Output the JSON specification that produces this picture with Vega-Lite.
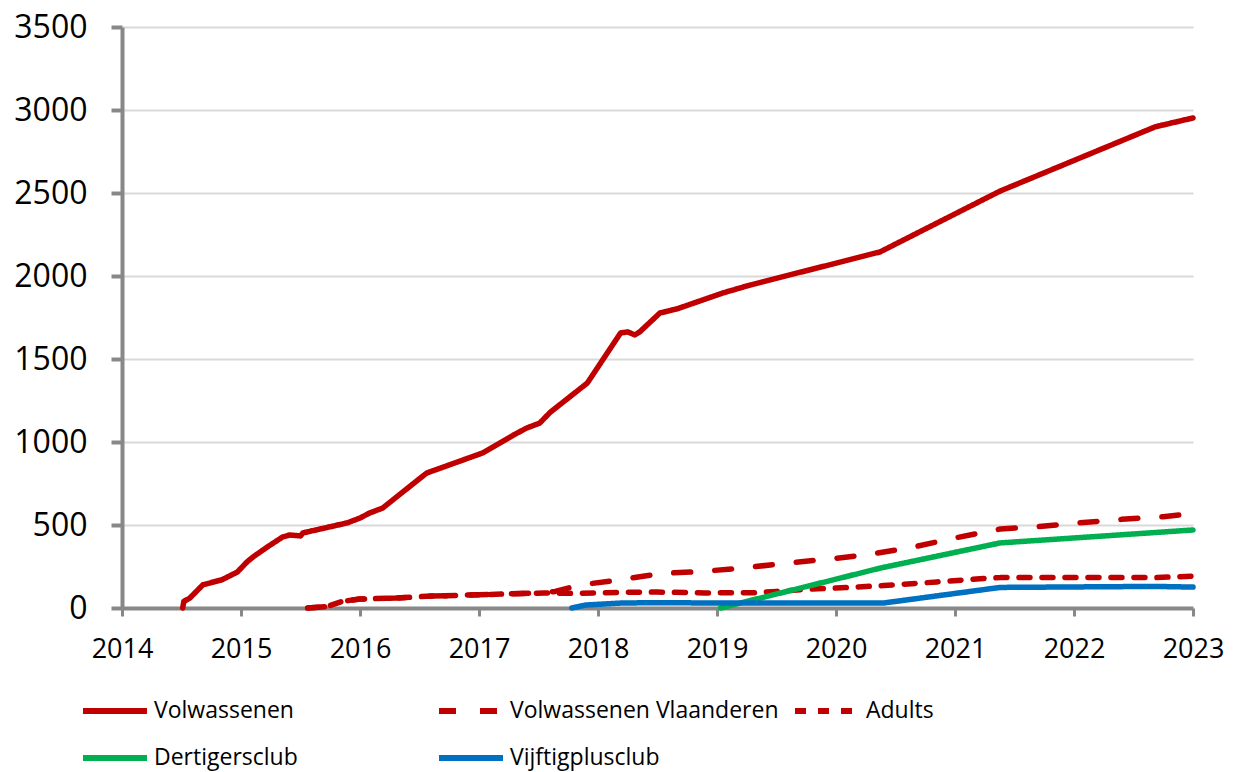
{
  "$schema": "https://vega.github.io/schema/vega-lite/v6.json",
  "autosize": {"type": "none"},
  "width": 1071,
  "height": 581,
  "padding": {"left": 122, "top": 27, "right": 43, "bottom": 164},
  "background": "white",
  "config": {
    "view": {"stroke": null},
    "font": "Open Sans",
    "axis": {"labelFont": "Open Sans", "labelColor": "#000000"},
    "legend": {"labelFont": "Open Sans"}
  },
  "data": {
    "values": [
      {"series": "Volwassenen", "year": 2014.51, "value": 0},
      {"series": "Volwassenen", "year": 2014.52, "value": 40},
      {"series": "Volwassenen", "year": 2014.57, "value": 60},
      {"series": "Volwassenen", "year": 2014.68, "value": 140},
      {"series": "Volwassenen", "year": 2014.84, "value": 170},
      {"series": "Volwassenen", "year": 2014.97, "value": 217},
      {"series": "Volwassenen", "year": 2015.05, "value": 277},
      {"series": "Volwassenen", "year": 2015.10, "value": 307},
      {"series": "Volwassenen", "year": 2015.22, "value": 367},
      {"series": "Volwassenen", "year": 2015.35, "value": 428},
      {"series": "Volwassenen", "year": 2015.41, "value": 440},
      {"series": "Volwassenen", "year": 2015.50, "value": 434},
      {"series": "Volwassenen", "year": 2015.52, "value": 452},
      {"series": "Volwassenen", "year": 2015.89, "value": 512},
      {"series": "Volwassenen", "year": 2016.00, "value": 542},
      {"series": "Volwassenen", "year": 2016.08, "value": 572},
      {"series": "Volwassenen", "year": 2016.19, "value": 602},
      {"series": "Volwassenen", "year": 2016.56, "value": 813},
      {"series": "Volwassenen", "year": 2017.03, "value": 934},
      {"series": "Volwassenen", "year": 2017.29, "value": 1042},
      {"series": "Volwassenen", "year": 2017.40, "value": 1084},
      {"series": "Volwassenen", "year": 2017.51, "value": 1114},
      {"series": "Volwassenen", "year": 2017.60, "value": 1180},
      {"series": "Volwassenen", "year": 2017.91, "value": 1355},
      {"series": "Volwassenen", "year": 2018.19, "value": 1657},
      {"series": "Volwassenen", "year": 2018.25, "value": 1663},
      {"series": "Volwassenen", "year": 2018.31, "value": 1645},
      {"series": "Volwassenen", "year": 2018.35, "value": 1663},
      {"series": "Volwassenen", "year": 2018.52, "value": 1777},
      {"series": "Volwassenen", "year": 2018.66, "value": 1801},
      {"series": "Volwassenen", "year": 2019.05, "value": 1898},
      {"series": "Volwassenen", "year": 2019.28, "value": 1946},
      {"series": "Volwassenen", "year": 2020.37, "value": 2145},
      {"series": "Volwassenen", "year": 2021.38, "value": 2512},
      {"series": "Volwassenen", "year": 2022.68, "value": 2898},
      {"series": "Volwassenen", "year": 2023.00, "value": 2952},

      {"series": "Volwassenen Vlaanderen", "year": 2015.56, "value": 0},
      {"series": "Volwassenen Vlaanderen", "year": 2015.72, "value": 8},
      {"series": "Volwassenen Vlaanderen", "year": 2015.85, "value": 40},
      {"series": "Volwassenen Vlaanderen", "year": 2016.00, "value": 54},
      {"series": "Volwassenen Vlaanderen", "year": 2016.30, "value": 60},
      {"series": "Volwassenen Vlaanderen", "year": 2016.60, "value": 72},
      {"series": "Volwassenen Vlaanderen", "year": 2016.90, "value": 78},
      {"series": "Volwassenen Vlaanderen", "year": 2017.20, "value": 84},
      {"series": "Volwassenen Vlaanderen", "year": 2017.55, "value": 92},
      {"series": "Volwassenen Vlaanderen", "year": 2017.64, "value": 100},
      {"series": "Volwassenen Vlaanderen", "year": 2017.85, "value": 139},
      {"series": "Volwassenen Vlaanderen", "year": 2018.18, "value": 169},
      {"series": "Volwassenen Vlaanderen", "year": 2018.53, "value": 208},
      {"series": "Volwassenen Vlaanderen", "year": 2018.87, "value": 220},
      {"series": "Volwassenen Vlaanderen", "year": 2019.22, "value": 241},
      {"series": "Volwassenen Vlaanderen", "year": 2019.59, "value": 271},
      {"series": "Volwassenen Vlaanderen", "year": 2019.95, "value": 295},
      {"series": "Volwassenen Vlaanderen", "year": 2020.30, "value": 325},
      {"series": "Volwassenen Vlaanderen", "year": 2020.65, "value": 367},
      {"series": "Volwassenen Vlaanderen", "year": 2021.00, "value": 422},
      {"series": "Volwassenen Vlaanderen", "year": 2021.38, "value": 476},
      {"series": "Volwassenen Vlaanderen", "year": 2021.69, "value": 490},
      {"series": "Volwassenen Vlaanderen", "year": 2022.03, "value": 512},
      {"series": "Volwassenen Vlaanderen", "year": 2022.40, "value": 534},
      {"series": "Volwassenen Vlaanderen", "year": 2022.75, "value": 550},
      {"series": "Volwassenen Vlaanderen", "year": 2023.00, "value": 570},

      {"series": "Adults", "year": 2015.56, "value": 0},
      {"series": "Adults", "year": 2015.72, "value": 8},
      {"series": "Adults", "year": 2015.85, "value": 40},
      {"series": "Adults", "year": 2016.00, "value": 54},
      {"series": "Adults", "year": 2016.30, "value": 60},
      {"series": "Adults", "year": 2016.60, "value": 72},
      {"series": "Adults", "year": 2016.90, "value": 78},
      {"series": "Adults", "year": 2017.20, "value": 84},
      {"series": "Adults", "year": 2017.55, "value": 90},
      {"series": "Adults", "year": 2017.80, "value": 88},
      {"series": "Adults", "year": 2018.20, "value": 94},
      {"series": "Adults", "year": 2018.50, "value": 96},
      {"series": "Adults", "year": 2018.90, "value": 91},
      {"series": "Adults", "year": 2019.30, "value": 92},
      {"series": "Adults", "year": 2019.50, "value": 100},
      {"series": "Adults", "year": 2019.80, "value": 114},
      {"series": "Adults", "year": 2020.00, "value": 120},
      {"series": "Adults", "year": 2020.40, "value": 135},
      {"series": "Adults", "year": 2020.85, "value": 157},
      {"series": "Adults", "year": 2021.24, "value": 178},
      {"series": "Adults", "year": 2021.38, "value": 183},
      {"series": "Adults", "year": 2022.68, "value": 183},
      {"series": "Adults", "year": 2023.00, "value": 192},

      {"series": "Dertigersclub", "year": 2019.03, "value": 0},
      {"series": "Dertigersclub", "year": 2020.37, "value": 240},
      {"series": "Dertigersclub", "year": 2021.38, "value": 392},
      {"series": "Dertigersclub", "year": 2023.00, "value": 470},

      {"series": "Vijftigplusclub", "year": 2017.78, "value": 0},
      {"series": "Vijftigplusclub", "year": 2017.90, "value": 18},
      {"series": "Vijftigplusclub", "year": 2018.20, "value": 30},
      {"series": "Vijftigplusclub", "year": 2018.50, "value": 32},
      {"series": "Vijftigplusclub", "year": 2019.00, "value": 30},
      {"series": "Vijftigplusclub", "year": 2020.40, "value": 30},
      {"series": "Vijftigplusclub", "year": 2021.38, "value": 124},
      {"series": "Vijftigplusclub", "year": 2022.68, "value": 130},
      {"series": "Vijftigplusclub", "year": 2023.00, "value": 126}
    ]
  },
  "mark": {"type": "line", "strokeWidth": 5.5, "strokeCap": "round", "strokeJoin": "round", "clip": false},
  "encoding": {
    "x": {
      "field": "year",
      "type": "quantitative",
      "scale": {"domain": [2014, 2023], "nice": false, "zero": false},
      "axis": {
        "title": null,
        "grid": false,
        "values": [2014, 2014.25, 2014.5, 2014.75, 2015, 2015.25, 2015.5, 2015.75, 2016, 2016.25, 2016.5, 2016.75, 2017, 2017.25, 2017.5, 2017.75, 2018, 2018.25, 2018.5, 2018.75, 2019, 2019.25, 2019.5, 2019.75, 2020, 2020.25, 2020.5, 2020.75, 2021, 2021.25, 2021.5, 2021.75, 2022, 2022.25, 2022.5, 2022.75, 2023],
        "format": "d",
        "labelExpr": "datum.value % 1 == 0 ? datum.label : ''",
        "labelOverlap": false,
        "labelBound": false,
        "labelFlush": false,
        "labelFontSize": 27,
        "labelPadding": 20,
        "domainColor": "#888888",
        "domainWidth": 4,
        "tickColor": "#888888",
        "tickWidth": 3,
        "tickSize": 8
      }
    },
    "y": {
      "field": "value",
      "type": "quantitative",
      "scale": {"domain": [0, 3500], "nice": false},
      "axis": {
        "title": null,
        "values": [0, 500, 1000, 1500, 2000, 2500, 3000, 3500],
        "format": "d",
        "labelFontSize": 32,
        "labelPadding": 24,
        "domainColor": "#888888",
        "domainWidth": 4,
        "tickColor": "#888888",
        "tickWidth": 4,
        "tickSize": 11,
        "gridColor": "#D9D9D9",
        "gridWidth": 2
      }
    },
    "color": {
      "field": "series",
      "type": "nominal",
      "scale": {
        "domain": ["Volwassenen", "Volwassenen Vlaanderen", "Adults", "Dertigersclub", "Vijftigplusclub"],
        "range": ["#C00000", "#C00000", "#C00000", "#00B050", "#0070C0"]
      },
      "legend": {
        "title": null,
        "orient": "none",
        "legendX": -42,
        "legendY": 649,
        "direction": "horizontal",
        "columns": 3,
        "gridAlign": "all",
        "columnPadding": 4,
        "rowPadding": 0,
        "symbolType": "stroke",
        "symbolSize": 4096,
        "symbolStrokeWidth": 6,
        "labelFontSize": 23,
        "labelOffset": 4,
        "labelColor": "#000000",
        "labelLimit": 400,
        "padding": 0
      }
    },
    "strokeDash": {
      "field": "series",
      "type": "nominal",
      "scale": {
        "domain": ["Volwassenen", "Volwassenen Vlaanderen", "Adults", "Dertigersclub", "Vijftigplusclub"],
        "range": [[1, 0], [17, 24], [11, 12], [1, 0], [1, 0]]
      },
      "legend": {
        "title": null,
        "orient": "none",
        "legendX": -42,
        "legendY": 649,
        "direction": "horizontal",
        "columns": 3,
        "gridAlign": "all",
        "columnPadding": 4,
        "rowPadding": 0,
        "symbolType": "stroke",
        "symbolSize": 4096,
        "symbolStrokeWidth": 6,
        "labelFontSize": 23,
        "labelOffset": 4,
        "labelColor": "#000000",
        "labelLimit": 400,
        "padding": 0
      }
    }
  }
}
